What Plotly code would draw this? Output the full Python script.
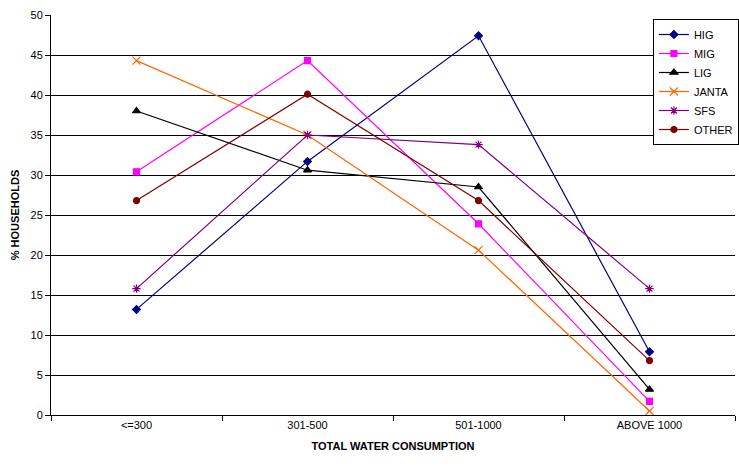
import plotly.graph_objects as go

categories = ["<=300", "301-500", "501-1000", "ABOVE 1000"]
hig = [13.2, 31.7, 47.4, 7.9]
mig = [30.4, 44.3, 23.9, 1.7]
lig = [38.0, 30.6, 28.5, 3.2]
janta = [44.3, 35.0, 20.6, 0.5]
sfs = [15.8, 35.0, 33.8, 15.8]
other = [26.8, 40.1, 26.8, 6.8]

series = [
    ("HIG", hig, "#000080", "diamond", 6),
    ("MIG", mig, "#FF00FF", "square", 6),
    ("LIG", lig, "#000000", "triangle-up", 7),
    ("JANTA", janta, "#FF6600", "x-thin", 8),
    ("SFS", sfs, "#800080", "asterisk", 7),
    ("OTHER", other, "#800000", "circle", 6),
]

fig = go.Figure()
for name, vals, col, sym, sz in series:
    fig.add_trace(go.Scatter(
        x=categories, y=vals, name=name, mode="lines+markers",
        line=dict(color=col, width=1.2),
        marker=dict(symbol=sym, size=sz, color=col, line=dict(color=col, width=1.2)),
    ))

fig.update_layout(
    width=739, height=466,
    margin=dict(l=51, r=0, t=15, b=51),
    paper_bgcolor="white", plot_bgcolor="white",
    font=dict(family="Liberation Sans, Arial, sans-serif", size=11, color="#000000"),
    showlegend=True,
    legend=dict(
        x=0.88, y=0.99, xanchor="left", yanchor="top",
        bgcolor="white", bordercolor="#000000", borderwidth=1,
        font=dict(size=11), tracegroupgap=0, itemwidth=30,
    ),
    xaxis=dict(
        type="category", range=[-0.5, 3.5],
        showline=True, linecolor="#000000", linewidth=1,
        ticks="outside", tickson="boundaries", ticklen=5, tickcolor="#000000",
        showgrid=False, tickfont=dict(size=11),
        title=dict(text="<b>TOTAL WATER CONSUMPTION</b>", font=dict(size=11), standoff=12),
    ),
    yaxis=dict(
        range=[0, 50], dtick=5, tick0=0,
        showline=True, linecolor="#000000", linewidth=1,
        ticks="outside", ticklen=5, tickcolor="#000000",
        showgrid=True, gridcolor="#000000", gridwidth=1,
        zeroline=False, tickfont=dict(size=11),
        title=dict(text="<b>% HOUSEHOLDS</b>", font=dict(size=11), standoff=8),
    ),
)

fig.write_html("out.html")
